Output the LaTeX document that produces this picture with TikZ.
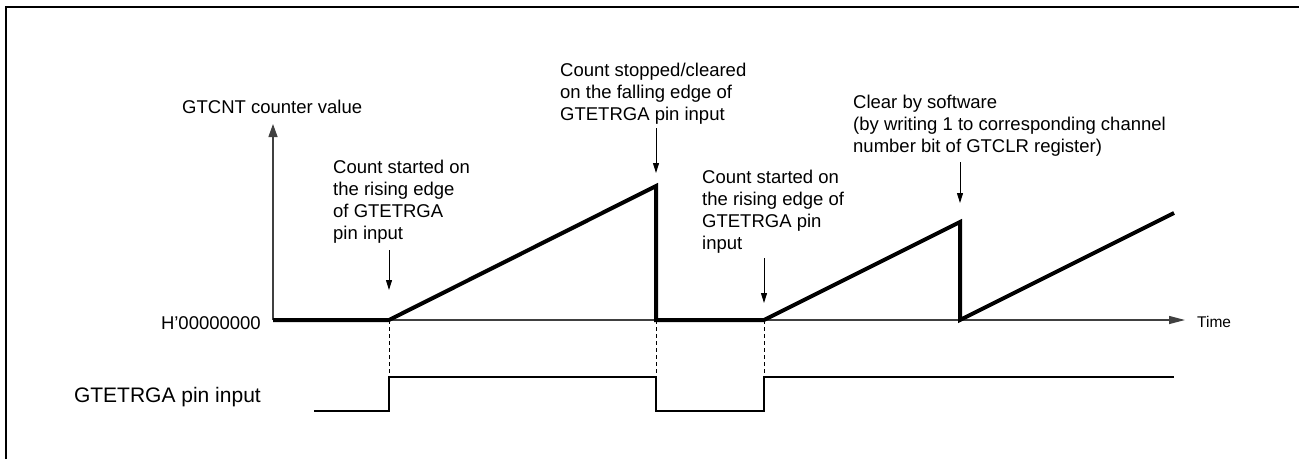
\documentclass[tikz,border=0pt]{standalone}
\usepackage{fontspec}
\setmainfont{Liberation Sans}
\usetikzlibrary{arrows.meta}
\begin{document}
\begin{tikzpicture}[x=1pt,y=-1pt,
  lbl/.style={font=\fontsize{18.5}{22}\selectfont,inner sep=0pt,align=left,anchor=base west},
  big/.style={font=\fontsize{21}{25}\selectfont,inner sep=0pt,anchor=base east},
  small/.style={font=\fontsize{15.5}{18}\selectfont,inner sep=0pt,anchor=base west},
  axis/.style={line width=1.3pt,draw=black!75},
  sig/.style={line width=4pt,line join=miter,line cap=butt},
  pulse/.style={line width=1.5pt,line join=miter},
  guide/.style={line width=0.9pt,dash pattern=on 4pt off 3pt},
  note/.style={line width=1pt,-{Triangle[length=10pt,width=6pt]}},
  frame/.style={line width=2pt}]
\useasboundingbox (0,0) rectangle (1299,459);
% frame (cut off on the right and at the bottom)
\draw[frame] (6,459) -- (6,7) -- (1299,7);
% key points
\coordinate (o) at (273,320);
\coordinate (ytop) at (273,124);
\coordinate (xend) at (1185,320);
\coordinate (r1) at (389,320);
\coordinate (p1) at (656,186);
\coordinate (f1) at (656,320);
\coordinate (r2) at (764,320);
\coordinate (p2) at (960,222);
\coordinate (c2) at (960,320);
\coordinate (e3) at (1174,213);
% axes
\draw[axis,-{Triangle[length=13pt,width=9pt]}] (o) -- (ytop);
\draw[axis,-{Triangle[length=16pt,width=8pt]}] (o) -- (xend);
\node[lbl] (ylab) at (182,113) {GTCNT counter value};
\node[lbl,anchor=base east] (zero) at (261,329) {H'00000000};
\node[small] (tlab) at (1197,327) {Time};
% counter signal
\draw[sig] (o) -- (r1) -- (p1) -- (f1) -- (r2) -- (p2) -- (c2) -- (e3);
% pin input
\node[big] (pin) at (261,402) {GTETRGA pin input};
\coordinate (q0) at (314,411);
\coordinate (q1) at (389,411);
\coordinate (q2) at (389,377);
\coordinate (q3) at (656,377);
\coordinate (q4) at (656,411);
\coordinate (q5) at (764,411);
\coordinate (q6) at (764,377);
\coordinate (q7) at (1174,377);
\draw[pulse] (q0) -- (q1) -- (q2) -- (q3) -- (q4) -- (q5) -- (q6) -- (q7);
% guides
\draw[guide] (r1) -- (q2);
\draw[guide] (f1) -- (q3);
\draw[guide] (r2) -- (q6);
% annotations (base anchor = baseline of the last line)
\node[lbl] (n1) at (333,239) {Count started on\\the rising edge\\of GTETRGA\\pin input};
\node[lbl] (n2) at (560,120) {Count stopped/cleared\\on the falling edge of\\GTETRGA pin input};
\node[lbl] (n3) at (702,249) {Count started on\\the rising edge of\\GTETRGA pin\\input};
\node[lbl] (n4) at (853,152) {Clear by software\\(by writing 1 to corresponding channel\\number bit of GTCLR register)};
\coordinate (a1s) at (389,250); \coordinate (a1e) at (389,290);
\coordinate (a2s) at (656,128); \coordinate (a2e) at (656,173);
\coordinate (a3s) at (764,258); \coordinate (a3e) at (764,303);
\coordinate (a4s) at (960,162); \coordinate (a4e) at (960,203);
\draw[note] (a1s) -- (a1e);
\draw[note] (a2s) -- (a2e);
\draw[note] (a3s) -- (a3e);
\draw[note] (a4s) -- (a4e);
\end{tikzpicture}
\end{document}
